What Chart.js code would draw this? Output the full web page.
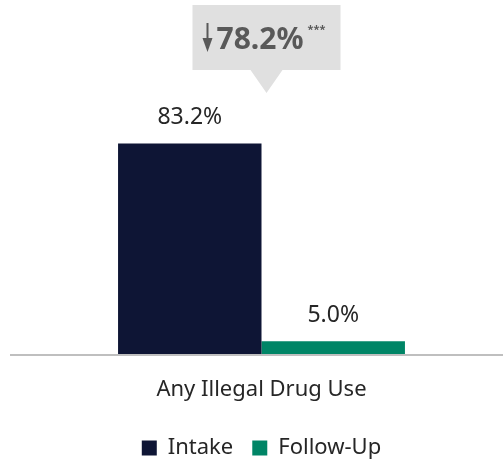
<!DOCTYPE html>
<html>
<head>
<meta charset="utf-8">
<script src="https://cdn.jsdelivr.net/npm/chart.js@4"></script>
<style>
  html, body { margin: 0; padding: 0; background: #fff; }
  #wrap { width: 503px; height: 459px; position: relative; }
</style>
</head>
<body>
<div id="wrap"><canvas id="chart"></canvas></div>
<script>
"use strict";

const categories = ["Any Illegal Drug Use"];
const seriesNames = ["Intake", "Follow-Up"];
const intakeValues = [83.2];
const followUpValues = [5.0];
const seriesColors = ["#0e1535", "#008566"];
const changeValue = 78.2;
const changeSig = "***";

const FONT = "'Noto Sans', sans-serif";

// value labels above each bar
const valueLabels = {
  id: "valueLabels",
  afterDatasetsDraw(chart) {
    const ctx = chart.ctx;
    ctx.save();
    ctx.font = "23px " + FONT;
    ctx.fillStyle = "#262626";
    ctx.textAlign = "center";
    ctx.textBaseline = "middle";
    chart.data.datasets.forEach((ds, i) => {
      chart.getDatasetMeta(i).data.forEach((bar, j) => {
        ctx.fillText(ds.data[j].toFixed(1) + "%", bar.x, bar.y - 26);
      });
    });
    ctx.restore();
  }
};

// baseline running past the left of the plot + change callout
const extras = {
  id: "extras",
  afterDraw(chart) {
    const ctx = chart.ctx;
    const y0 = chart.scales.y.getPixelForValue(0);
    ctx.save();
    ctx.strokeStyle = "#bfbfbf";
    ctx.lineWidth = 2;
    ctx.beginPath();
    ctx.moveTo(10, y0 + 1);
    ctx.lineTo(chart.width, y0 + 1);
    ctx.stroke();

    // callout box
    const cx = chart.scales.x.getPixelForValue(0) + 5;
    const left = cx - 74, right = cx + 74, top = 5, bottom = 70;
    ctx.fillStyle = "#e0e0e0";
    ctx.beginPath();
    ctx.moveTo(left, top);
    ctx.lineTo(right, top);
    ctx.lineTo(right, bottom);
    ctx.lineTo(cx + 16, bottom);
    ctx.lineTo(cx, 93);
    ctx.lineTo(cx - 16, bottom);
    ctx.lineTo(left, bottom);
    ctx.closePath();
    ctx.fill();

    // down arrow
    const ax = left + 15;
    ctx.strokeStyle = "#595959";
    ctx.fillStyle = "#595959";
    ctx.lineWidth = 2;
    ctx.beginPath();
    ctx.moveTo(ax, 23);
    ctx.lineTo(ax, 48);
    ctx.stroke();
    ctx.beginPath();
    ctx.moveTo(ax - 5, 38);
    ctx.lineTo(ax, 52);
    ctx.lineTo(ax + 5, 38);
    ctx.closePath();
    ctx.fill();

    ctx.font = "bold 30px " + FONT;
    ctx.textAlign = "left";
    ctx.textBaseline = "alphabetic";
    const txt = changeValue.toFixed(1) + "%";
    ctx.fillText(txt, ax + 9, 49);
    const w = ctx.measureText(txt).width;
    ctx.font = "bold 11px " + FONT;
    ctx.fillText(changeSig, ax + 13 + w, 33);
    ctx.restore();
  }
};

new Chart(document.getElementById("chart"), {
  type: "bar",
  data: {
    labels: categories,
    datasets: [
      { label: seriesNames[0], data: intakeValues, backgroundColor: seriesColors[0] },
      { label: seriesNames[1], data: followUpValues, backgroundColor: seriesColors[1] }
    ]
  },
  options: {
    responsive: true,
    maintainAspectRatio: false,
    animation: false,
    layout: { padding: { top: 101, left: 20, right: 0, bottom: -10 } },
    datasets: { bar: { barPercentage: 1, categoryPercentage: 0.594 } },
    scales: {
      y: { display: false, min: 0, max: 100 },
      x: {
        grid: { display: false },
        border: { display: false },
        ticks: { color: "#262626", font: { family: FONT, size: 22, lineHeight: 1 }, padding: 17 }
      }
    },
    plugins: {
      legend: {
        position: "bottom",
        labels: {
          color: "#262626",
          font: { family: FONT, size: 22 },
          boxWidth: 15,
          boxHeight: 15,
          padding: 19
        }
      },
      tooltip: { enabled: false }
    }
  },
  plugins: [valueLabels, extras]
});
</script>
</body>
</html>
